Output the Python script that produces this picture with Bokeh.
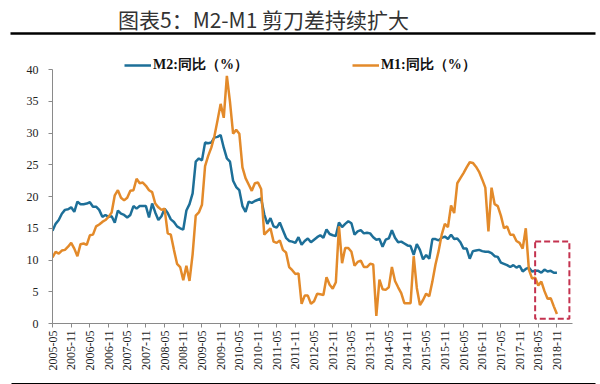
from bokeh.plotting import figure
from bokeh.models import Range1d, FixedTicker, Legend, LegendItem, Label, BoxAnnotation, ColumnDataSource
from bokeh.layouts import column
from bokeh.embed import file_html
from bokeh.resources import INLINE
import math

# ---------------- data ----------------
m2_yoy = [
    14.6, 15.7, 16.3, 17.3, 17.9, 18.0, 18.3, 17.6,
    19.2, 18.8, 18.8, 18.9, 19.1, 18.4, 18.4, 17.9, 16.8, 17.1, 16.8, 16.9,
    15.9, 17.8, 17.3, 17.1, 16.7, 17.1, 18.5, 18.1, 18.5, 18.5, 18.5, 16.7,
    18.9, 17.5, 16.3, 16.9, 18.1, 17.4, 16.4, 16.0, 15.3, 15.0, 14.8, 17.8,
    18.8, 20.5, 25.5, 26.0, 25.7, 28.5, 28.4, 28.5, 29.3, 29.4, 29.7, 27.7,
    26.0, 25.5, 22.5, 21.5, 21.0, 18.5, 17.6, 19.2, 19.0, 19.3, 19.5, 19.7,
    17.2, 15.7, 16.6, 15.3, 15.1, 15.9, 14.7, 13.5, 13.0, 12.9, 12.7, 13.6,
    12.4, 13.0, 13.4, 12.8, 13.2, 13.6, 13.9, 13.5, 14.8, 14.1, 13.9, 13.8,
    15.9, 15.2, 15.7, 16.1, 15.8, 14.0, 14.5, 14.7, 14.2, 14.3, 14.2, 13.6,
    13.2, 13.3, 12.1, 13.2, 13.4, 14.7, 13.5, 12.8, 12.9, 12.6, 12.3, 12.2,
    10.8, 12.5, 11.6, 10.1, 10.8, 10.2, 13.3, 13.3, 13.1, 13.5, 13.7, 13.3,
    14.0, 13.3, 13.4, 12.8, 11.8, 11.8, 10.2, 11.4, 11.5, 11.6, 11.4, 11.3,
    11.3, 11.1, 10.6, 10.5, 9.6, 9.4, 9.2, 8.9, 9.2, 8.8, 9.1, 8.2,
    8.6, 8.8, 8.2, 8.3, 8.3, 8.0, 8.5, 8.2, 8.3, 8.0, 8.0,
]
m1_yoy = [
    10.4, 11.3, 11.0, 11.5, 11.6, 12.1, 12.7, 11.8,
    10.6, 12.5, 12.6, 12.4, 13.9, 14.0, 15.3, 15.6, 16.0, 16.3, 16.8, 17.5,
    20.2, 21.0, 19.8, 19.4, 19.8, 20.9, 21.0, 22.8, 22.1, 22.2, 21.7, 21.0,
    20.7, 18.9, 18.3, 17.9, 18.1, 14.2, 14.0, 11.6, 9.4, 8.9, 6.8, 9.1,
    6.7, 10.9, 17.0, 17.5, 18.7, 24.8, 26.4, 27.7, 29.5, 32.0, 34.6, 32.4,
    39.0, 34.9, 29.9, 30.5, 29.9, 24.6, 22.9, 21.9, 20.9, 22.1, 22.2, 21.2,
    14.0, 14.5, 15.0, 12.9, 12.7, 13.1, 11.6, 11.2, 8.9, 8.4, 7.8, 7.9,
    3.1, 4.4, 4.4, 3.1, 3.5, 4.7, 4.6, 4.5, 7.3, 6.1, 5.5, 6.5,
    15.3, 9.5, 11.9, 11.9, 11.3, 9.1, 9.7, 9.9, 8.9, 8.9, 9.4, 9.3,
    1.2, 6.9, 5.4, 5.3, 5.7, 8.9, 6.7, 5.7, 4.8, 3.2, 3.2, 3.2,
    10.6, 5.6, 2.9, 3.7, 4.7, 4.3, 6.6, 9.3, 11.4, 14.0, 15.7, 15.2,
    18.6, 17.4, 22.1, 22.9, 23.7, 24.6, 25.4, 25.3, 24.7, 23.9, 22.7, 21.4,
    14.5, 21.4, 18.8, 18.5, 17.0, 15.0, 15.3, 14.0, 14.0, 13.0, 12.7, 11.8,
    15.0, 8.5, 7.1, 7.2, 6.0, 6.6, 5.1, 3.9, 4.0, 2.7, 1.5,
]
tick_labels = [
    "2005-05", "2005-11", "2006-05", "2006-11", "2007-05", "2007-11",
    "2008-05", "2008-11", "2009-05", "2009-11", "2010-05", "2010-11",
    "2011-05", "2011-11", "2012-05", "2012-11", "2013-05", "2013-11",
    "2014-05", "2014-11", "2015-05", "2015-11", "2016-05", "2016-11",
    "2017-05", "2017-11", "2018-05", "2018-11",
]
y_ticks = [0, 5, 10, 15, 20, 25, 30, 35, 40]
series_names = ["M2:同比（%）", "M1:同比（%）"]
title_text = "图表5：M2-M1 剪刀差持续扩大"

month_idx = list(range(len(m2_yoy)))
tick_pos = [i * 6 for i in range(len(tick_labels))]

src = ColumnDataSource(dict(x=month_idx, m2=m2_yoy, m1=m1_yoy))

W = 600
TITLE_H, MAIN_H, RULE_H = 38, 338, 8

# ---------------- title strip (pixel-like coordinates) ----------------
t = figure(width=W, height=TITLE_H, output_backend="svg", toolbar_location=None,
           x_axis_location=None, y_axis_location=None,
           x_range=Range1d(0, W), y_range=Range1d(0, TITLE_H),
           min_border=0, frame_align=False)
t.grid.grid_line_color = None
t.outline_line_color = None
t.add_layout(Label(x=263, y=20, text=title_text, text_align="center", text_baseline="middle",
                   text_font="Noto Sans CJK SC", text_font_size="21px", text_color="#333333"))
t.add_layout(BoxAnnotation(left=10, right=595, bottom=3.8, top=6.3,
                           fill_color="black", fill_alpha=1, line_color=None))

# ---------------- main chart ----------------
p = figure(width=W, height=MAIN_H, output_backend="svg", toolbar_location=None,
           x_range=Range1d(0, 167), y_range=Range1d(0, 44.9),
           min_border_left=52, min_border_right=28, min_border_top=0, min_border_bottom=53,
           frame_align=False)
p.outline_line_color = None
p.grid.grid_line_color = None

BLUE = "#1d6f98"
ORANGE = "#e38a2a"

r2 = p.line("x", "m2", source=src, line_color=BLUE, line_width=2.5)
r1 = p.line("x", "m1", source=src, line_color=ORANGE, line_width=2.5)

for ax in (p.xaxis[0], p.yaxis[0]):
    ax.axis_line_color = "#8a8a8a"
    ax.axis_line_width = 1
    ax.major_tick_line_color = "#8a8a8a"
    ax.major_tick_in = 0
    ax.major_tick_out = 4
    ax.minor_tick_line_color = None
    ax.major_label_text_font = "Liberation Serif"
    ax.major_label_text_font_size = "12px"
    ax.major_label_text_color = "#222222"

p.xaxis.ticker = FixedTicker(ticks=tick_pos)
p.xaxis.major_label_overrides = {pos: lab for pos, lab in zip(tick_pos, tick_labels)}
p.xaxis.major_label_orientation = math.pi / 2
p.xaxis.major_label_standoff = 3

p.yaxis.ticker = FixedTicker(ticks=y_ticks)
p.yaxis.bounds = (0, 40)
p.yaxis.major_label_standoff = 10

legend = Legend(items=[LegendItem(label=series_names[0], renderers=[r2]),
                       LegendItem(label=series_names[1], renderers=[r1])],
                orientation="horizontal", location=(72, 249),
                spacing=104, padding=0, margin=0,
                glyph_width=27, glyph_height=14, label_standoff=2,
                label_text_font="Liberation Serif", label_text_font_size="14px",
                label_text_font_style="bold", label_text_color="#111111",
                border_line_color=None, background_fill_alpha=0)
p.add_layout(legend, "center")

p.add_layout(BoxAnnotation(left=155, right=166, bottom=0.75, top=12.9,
                           fill_alpha=0, line_color="#c4324f", line_alpha=1,
                           line_width=2, line_dash="6 3"))

# ---------------- bottom rule ----------------
b = figure(width=W, height=RULE_H, output_backend="svg", toolbar_location=None,
           x_axis_location=None, y_axis_location=None,
           x_range=Range1d(0, W), y_range=Range1d(0, RULE_H),
           min_border=0, frame_align=False)
b.grid.grid_line_color = None
b.outline_line_color = None
b.add_layout(BoxAnnotation(left=11, right=595, bottom=2.5, top=5.5,
                           fill_color="black", fill_alpha=1, line_color=None))

layout = column(t, p, b, spacing=0)
open("out.html", "w").write(file_html(layout, INLINE))
